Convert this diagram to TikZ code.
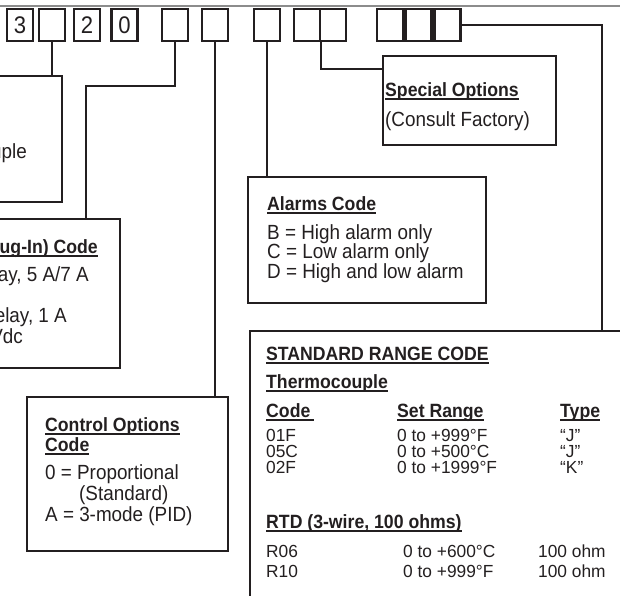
\documentclass[tikz,border=0pt]{standalone}
\usepackage{fontspec}
\setmainfont{Liberation Sans}[FakeStretch=0.92]
\newfontfamily\tblfamily{Liberation Sans}[FakeStretch=0.99]
\usetikzlibrary{calc}
\definecolor{ink}{HTML}{231F20}
\definecolor{rulegray}{HTML}{8C8C8C}
\newcommand\bodyfont{\fontsize{20.5}{20}\selectfont}
\newcommand\tblfont{\tblfamily\fontsize{17.5}{18}\selectfont}
\newcommand\hdr[1]{\setbox0=\hbox{\fontsize{19.2}{20}\selectfont\bfseries #1}\leavevmode\rlap{\vrule height -2.2pt depth 4pt width \wd0}\box0}
\begin{document}
\begin{tikzpicture}[x=1pt,y=-1pt,
  digitbox/.style={draw=ink, line width=2.2pt, minimum width=26pt, minimum height=32pt, inner sep=0pt, font=\fontsize{24}{24}\selectfont, text=ink},
  infobox/.style={draw=ink, line width=2.2pt, inner sep=0pt},
  wire/.style={draw=ink, line width=2.2pt},
  txt/.style={anchor=base west, inner sep=0pt, font=\bodyfont, text=ink},
  rtxt/.style={anchor=base east, inner sep=0pt, font=\bodyfont, text=ink},
  ttxt/.style={anchor=base west, inner sep=0pt, font=\tblfont, text=ink}]
\useasboundingbox (0,0) rectangle (620,595);
\clip (0,0) rectangle (620,595);
\fill[white] (0,0) rectangle (620,595);
% top rule
\coordinate (rl) at (0,6);
\coordinate (rr) at (620,6);
\draw[rulegray, line width=2pt] (rl) -- (rr);
% code boxes
\node[digitbox] (d1) at (20,25) {3};
\node[digitbox] (d2) at (52,25) {};
\node[digitbox] (d3) at (87,25) {2};
\node[digitbox] (d4) at (124.5,25) {0};
\node[digitbox] (d5) at (175,25) {};
\node[digitbox] (d6) at (215,25) {};
\node[digitbox] (d7) at (267,25) {};
\node[digitbox] (d8) at (307,25) {};
\node[digitbox] (d9) at (333,25) {};
\node[digitbox] (d10) at (390,25) {};
\node[digitbox] (d11) at (418.5,25) {};
\node[digitbox] (d12) at (447.5,25) {};
% info boxes
\node[infobox, minimum width=92pt, minimum height=126pt] (thermo) at (16,139) {};
\node[infobox, minimum width=150pt, minimum height=149pt] (out) at (45,293.5) {};
\node[infobox, minimum width=201pt, minimum height=154pt] (ctrl) at (127.5,474) {};
\node[infobox, minimum width=238pt, minimum height=126pt] (alarm) at (367,240) {};
\node[infobox, minimum width=173pt, minimum height=89pt] (spec) at (469.5,100.5) {};
\node[infobox, minimum width=400pt, minimum height=309pt] (range) at (450,485.5) {};
% connectors
\draw[wire] (d2.south) -- (d2.south |- thermo.north);
\coordinate (c5) at (86,86);
\draw[wire] (d5.south) |- (c5) -- (c5 |- out.north);
\draw[wire] (d6.south) -- (d6.south |- ctrl.north);
\draw[wire] (d7.south) -- (d7.south |- alarm.north);
\coordinate (c8) at ($(spec.north west)+(0,14)$);
\draw[wire] (d8.south east) |- (c8);
\coordinate (c12) at (602,25);
\draw[wire] (d12.east) -- (c12) -- (c12 |- range.north);
% thermocouple box text (cropped)
\node[rtxt] (t1) at (27,158) {Thermocouple};
% output box text (cropped)
\node[rtxt] (o1) at (98,253) {\hdr{Output (Plug-In) Code}};
\node[rtxt] (o2) at (89,281) {1 = Relay, 5 A/7 A};
\node[rtxt] (o3) at (67,322) {2 = Solid State Relay, 1 A};
\node[rtxt] (o4) at (23,343) {24 Vdc};
% control options
\node[txt] (k1) at (45,431) {\hdr{Control Options}};
\node[txt] (k2) at (45,451) {\hdr{Code}};
\node[txt] (k3) at (45,479) {0 = Proportional};
\node[txt] (k4) at (79,500) {(Standard)};
\node[txt] (k5) at (45,521) {A = 3-mode (PID)};
% alarms
\node[txt] (a1) at (267,210) {\hdr{Alarms Code}};
\node[txt] (a2) at (267,239) {B = High alarm only};
\node[txt] (a3) at (267,258.5) {C = Low alarm only};
\node[txt] (a4) at (267,278) {D = High and low alarm};
% special options
\node[txt] (s1) at (385,96) {\hdr{Special Options}};
\node[txt] (s2) at (385,126) {(Consult Factory)};
% standard range code
\node[txt] (r1) at (266,360) {\hdr{STANDARD RANGE CODE}};
\node[txt] (r2) at (266,388) {\hdr{Thermocouple}};
\node[txt] (r3) at (266,417) {\hdr{Code\,}};
\node[txt] (r4) at (397,417) {\hdr{Set Range}};
\node[txt] (r5) at (560,417) {\hdr{Type}};
\node[ttxt] (r6) at (266,441) {01F};
\node[ttxt] (r7) at (397,441) {0 to +999°F};
\node[ttxt] (r8) at (560,441) {“J”};
\node[ttxt] (r9) at (266,457) {05C};
\node[ttxt] (r10) at (397,457) {0 to +500°C};
\node[ttxt] (r11) at (560,457) {“J”};
\node[ttxt] (r12) at (266,473) {02F};
\node[ttxt] (r13) at (397,473) {0 to +1999°F};
\node[ttxt] (r14) at (560,473) {“K”};
\node[txt] (r15) at (266,528) {\hdr{RTD (3-wire, 100 ohms)}};
\node[ttxt] (r16) at (266,557) {R06};
\node[ttxt] (r17) at (403,557) {0 to +600°C};
\node[ttxt] (r18) at (538,557) {100 ohm};
\node[ttxt] (r19) at (266,577) {R10};
\node[ttxt] (r20) at (403,577) {0 to +999°F};
\node[ttxt] (r21) at (538,577) {100 ohm};
\end{tikzpicture}
\end{document}
